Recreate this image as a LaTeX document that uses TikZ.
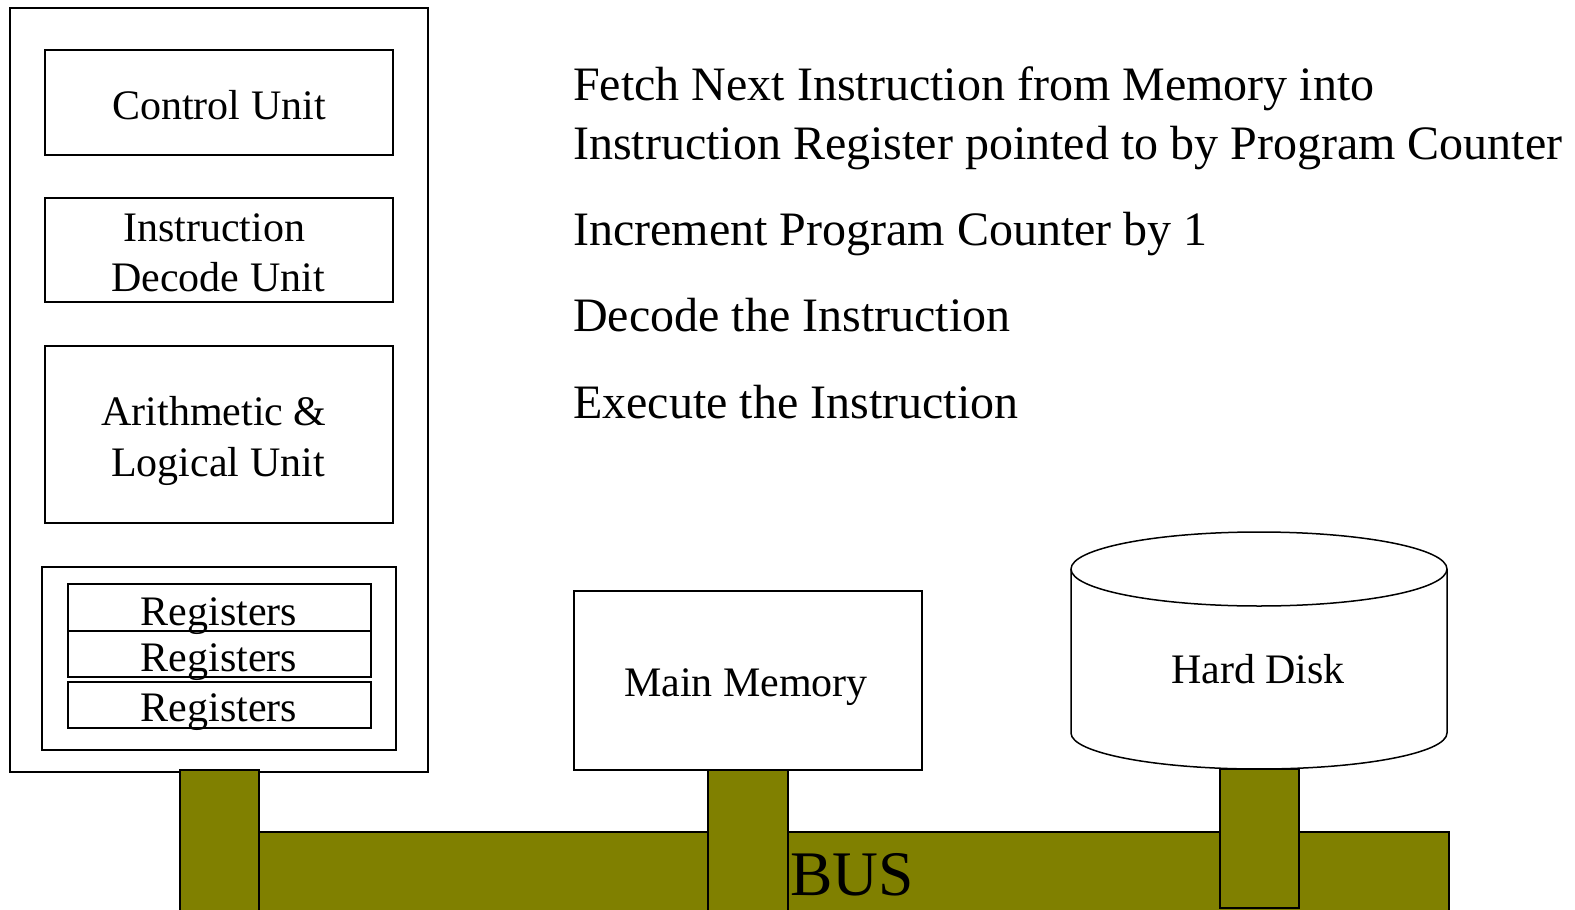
\documentclass[tikz,border=0pt]{standalone}
\usepackage{fontspec}
\setmainfont{Liberation Serif}
\definecolor{busolive}{RGB}{128,128,0}
\tikzset{
  box/.style={draw, line width=1.5pt, fill=white},
  lbl/.style={font=\fontsize{42}{50}\selectfont, anchor=base, inner sep=0pt},
  big/.style={font=\fontsize{48}{57}\selectfont, anchor=base west, inner sep=0pt},
  stub/.style={draw, line width=1.5pt, fill=busolive},
}
\begin{document}
\begin{tikzpicture}[x=1pt,y=-1pt]
\useasboundingbox (0,0) rectangle (1575,910);
% CPU
\draw[box] (10,8) rectangle (428,772);
\draw[box] (45,50) rectangle (393,155);
\node[lbl] (cu) at (219,119) {Control Unit};
\draw[box] (45,198) rectangle (393,302);
\node[lbl] (idu1) at (214,241) {Instruction};
\node[lbl] (idu2) at (218,291) {Decode Unit};
\draw[box] (45,346) rectangle (393,523);
\node[lbl] (alu1) at (214,425) {Arithmetic \&};
\node[lbl] (alu2) at (218,476) {Logical Unit};
\draw[box] (42,567) rectangle (396,750);
\draw[box] (68,584) rectangle (371,631);
\draw[box] (68,631) rectangle (371,677);
\draw[box] (68,682) rectangle (371,728);
\node[lbl] (r1) at (219,625) {Registers};
\node[lbl] (r2) at (219,671) {Registers};
\node[lbl] (r3) at (219,721) {Registers};
% Main memory
\draw[box] (574,591) rectangle (922,770);
\node[lbl] (mm) at (746,696) {Main Memory};
% Hard disk
\draw[line width=1.5pt, fill=white] (1071,569) -- (1071,733) arc[start angle=180, end angle=0, x radius=188, y radius=36] -- (1447,569) arc[start angle=0, end angle=-180, x radius=188, y radius=37] -- cycle;
\draw[line width=1.5pt] (1071,569) arc[start angle=180, end angle=0, x radius=188, y radius=37];
\node[lbl] (hd) at (1258,683) {Hard Disk};
% Bus
\draw[stub] (180,832) rectangle (1449,915);
\draw[stub] (180,770) rectangle (259,915);
\draw[stub] (708,770) rectangle (788,915);
\draw[stub] (1220,769) rectangle (1299,908);
\node[lbl, font=\fontsize{63.5}{70}\selectfont] (bus) at (852,895) {BUS};
% Steps
\node[big] (s1a) at (573,100.5) {Fetch Next Instruction from Memory into};
\node[big] (s1b) at (573,159) {Instruction Register pointed to by Program Counter};
\node[big] (s2) at (573,245) {Increment Program Counter by 1};
\node[big] (s3) at (573,331.5) {Decode the Instruction};
\node[big] (s4) at (573,418) {Execute the Instruction};
\end{tikzpicture}
\end{document}
